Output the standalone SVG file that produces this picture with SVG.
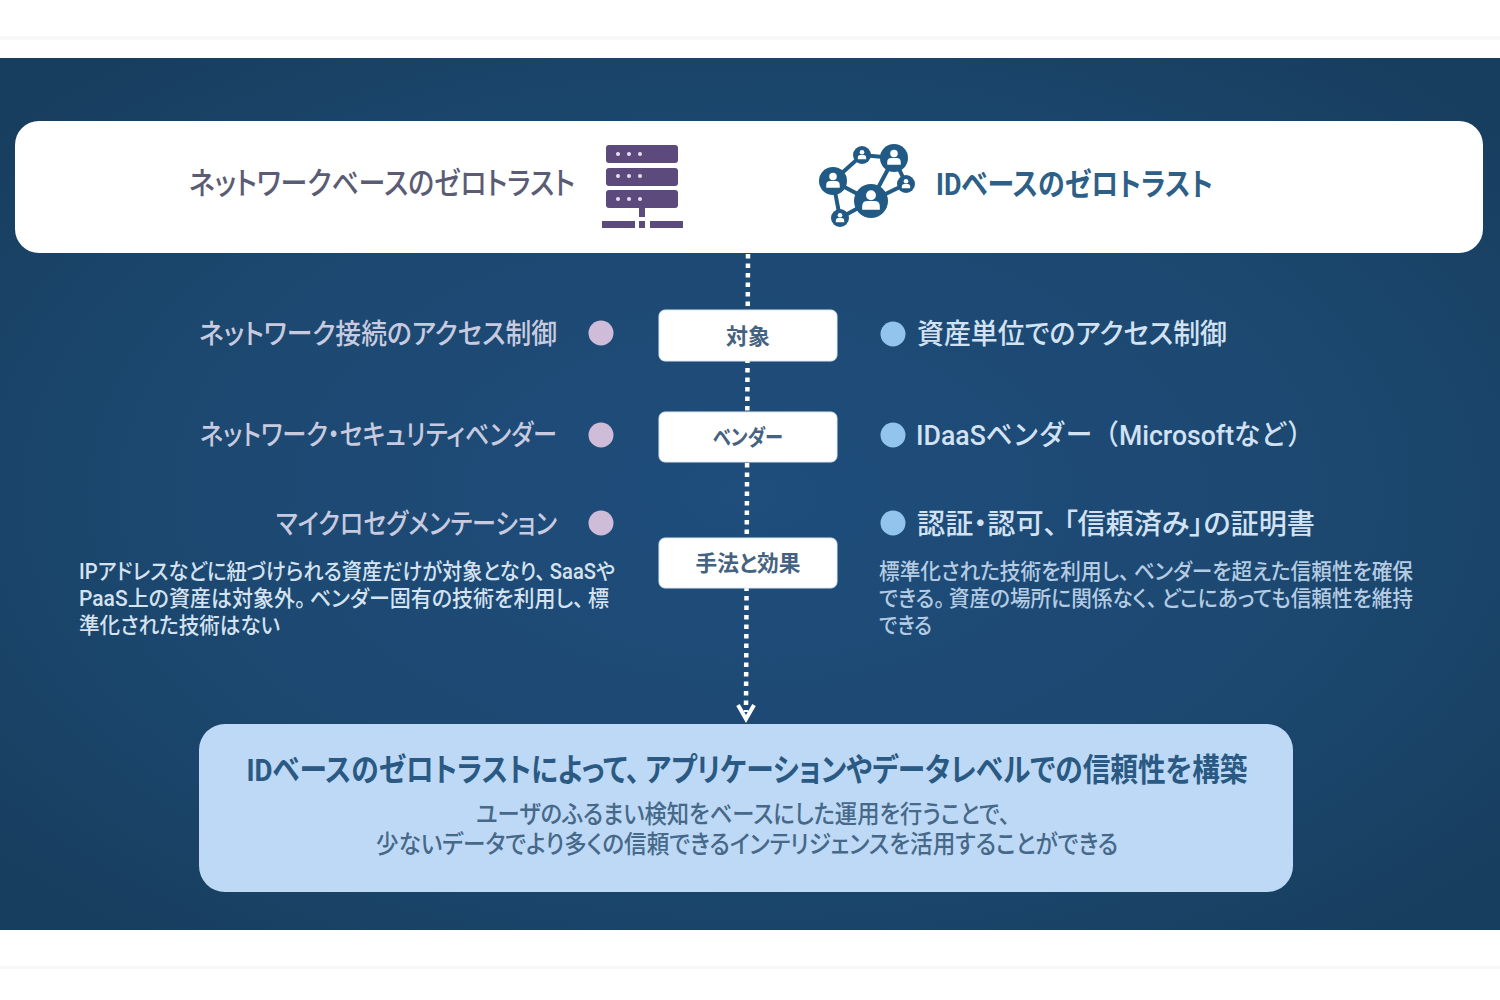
<svg xmlns="http://www.w3.org/2000/svg" width="1500" height="1000" viewBox="0 0 1500 1000">
<defs>
<radialGradient id="bg" cx="50%" cy="50%" r="65%"><stop offset="0" stop-color="#1f4d7c"/><stop offset="0.6" stop-color="#1c4870"/><stop offset="1" stop-color="#173e5f"/></radialGradient>
<g id="person"><circle cx="0" cy="-3.4" r="2.9"/><path d="M-5.2 5.2 v-2 q0 -3.2 3.2 -3.2 h4 q3.2 0 3.2 3.2 v2 z"/></g>
</defs>
<style>
text{font-family:Roboto,"Noto Sans CJK JP",sans-serif;font-feature-settings:"palt";font-weight:500}
.np{font-feature-settings:normal}
.h{font-size:31px;fill:#5a5c74}.hb{font-size:31px;fill:#2e5f86;font-weight:700}
.lp{font-size:28px;fill:#c8cadf;text-anchor:end}.lb{font-size:28px;fill:#d2e2f3}
.tag{font-size:22px;fill:#456280;text-anchor:middle;font-weight:700}
.s{font-size:22px;fill:#d5e2f0}
.s2{font-size:22px;fill:#b4cbe2}
.t1{font-size:32px;fill:#2a5a83;text-anchor:middle;font-weight:700}.t2{font-size:25px;fill:#466889;text-anchor:middle}
.tagbox{fill:#fff;stroke:#dce8f4;stroke-width:1}
.dp{fill:#cfbcd9}.db{fill:#93c4ee}
.srv{fill:#5d4a7d}.srvd{fill:#eadff0}.net{fill:#215a85}.netl{stroke:#215a85;stroke-width:4;fill:none}.pw{fill:#fff}
</style>
<rect width="1500" height="1000" fill="#fff"/>
<rect y="36" width="1500" height="4" fill="#f8f8f8"/>
<rect y="966" width="1500" height="3" fill="#f8f8f8"/>
<rect y="58" width="1500" height="872" fill="url(#bg)"/>
<g id="connectors"><path d="M748 254 L746 712" fill="none" stroke="#fff" stroke-width="4.5" stroke-dasharray="4.5 5"/><path d="M738 705 L746 719 L754 705" fill="none" stroke="#fff" stroke-width="4"/></g>
<g id="header"><rect x="15" y="121" width="1468" height="132" rx="24" fill="#fff"/>
<text class="h" x="189" y="194" textLength="386" lengthAdjust="spacingAndGlyphs">ネットワークベースのゼロトラスト</text>
<text class="hb" x="936" y="195" textLength="277" lengthAdjust="spacingAndGlyphs">IDベースのゼロトラスト</text></g>
<g id="icon-server">
<rect class="srv" x="606" y="145" width="72" height="18" rx="3"/><rect class="srv" x="606" y="168" width="72" height="18" rx="3"/><rect class="srv" x="606" y="190" width="72" height="18" rx="3"/>
<g class="srvd"><circle cx="618" cy="154" r="2"/><circle cx="629" cy="154" r="2"/><circle cx="640" cy="154" r="2"/><circle cx="618" cy="176" r="2"/><circle cx="629" cy="176" r="2"/><circle cx="640" cy="176" r="2"/><circle cx="618" cy="199" r="2"/><circle cx="629" cy="199" r="2"/><circle cx="640" cy="199" r="2"/></g>
<rect class="srv" x="639" y="208" width="6" height="9"/><rect class="srv" x="602" y="221" width="33" height="7"/><rect class="srv" x="639" y="221" width="6" height="7"/><rect class="srv" x="650" y="221" width="33" height="7"/>
</g>
<g id="icon-network">
<path class="netl" d="M833 181 L862 155 L894 158 L871 201 L833 181 M833 181 L840 218 L871 201 M894 158 L906 184 L871 201"/>
<circle class="net" cx="833" cy="181" r="14"/><circle class="net" cx="862" cy="155" r="9"/><circle class="net" cx="894" cy="158" r="14"/><circle class="net" cx="906" cy="184" r="9"/><circle class="net" cx="871" cy="201" r="17"/><circle class="net" cx="840" cy="218" r="9"/>
<use href="#person" class="pw" transform="translate(833 181) scale(1.3)"/><use href="#person" class="pw" transform="translate(862 155) scale(.8)"/><use href="#person" class="pw" transform="translate(894 158) scale(1.3)"/><use href="#person" class="pw" transform="translate(906 184) scale(.8)"/><use href="#person" class="pw" transform="translate(871 201) scale(1.7)"/><use href="#person" class="pw" transform="translate(840 218) scale(.8)"/>
</g>
<g id="tag-target"><rect class="tagbox" x="659" y="310" width="178" height="51" rx="6"/><text class="tag" x="748" y="344" textLength="44" lengthAdjust="spacingAndGlyphs">対象</text></g>
<g id="tag-vendor"><rect class="tagbox" x="659" y="412" width="178" height="50" rx="6"/><text class="tag" x="748" y="445" textLength="70" lengthAdjust="spacingAndGlyphs">ベンダー</text></g>
<g id="tag-method"><rect class="tagbox" x="659" y="538" width="178" height="50" rx="6"/><text class="tag" x="748" y="571" textLength="105" lengthAdjust="spacingAndGlyphs">手法と効果</text></g>
<g id="left-1"><text class="lp" x="557" y="344" textLength="358" lengthAdjust="spacingAndGlyphs">ネットワーク接続のアクセス制御</text><circle class="dp" cx="601" cy="333" r="12.5"/></g>
<g id="left-2"><text class="lp" x="557" y="445" textLength="357" lengthAdjust="spacingAndGlyphs">ネットワーク・セキュリティベンダー</text><circle class="dp" cx="601" cy="435" r="12.5"/></g>
<g id="left-3"><text class="lp" x="557" y="534" textLength="281" lengthAdjust="spacingAndGlyphs">マイクロセグメンテーション</text><circle class="dp" cx="601" cy="523" r="12.5"/>
<text class="s" x="79" y="579" textLength="536" lengthAdjust="spacingAndGlyphs">IPアドレスなどに紐づけられる資産だけが対象となり、&#8201;SaaSや</text>
<text class="s" x="79" y="606" textLength="530" lengthAdjust="spacingAndGlyphs">PaaS上の資産は対象外。&#8201;ベンダー固有の技術を利用し、&#8201;標</text>
<text class="s" x="79" y="633" textLength="201" lengthAdjust="spacingAndGlyphs">準化された技術はない</text></g>
<g id="right-1"><circle class="db" cx="893" cy="334" r="12.5"/><text class="lb" x="917" y="344" textLength="310" lengthAdjust="spacingAndGlyphs">資産単位でのアクセス制御</text></g>
<g id="right-2"><circle class="db" cx="893" cy="435" r="12.5"/><text class="lb np" x="916" y="445" textLength="398" lengthAdjust="spacingAndGlyphs">IDaaSベンダー（Microsoftなど）</text></g>
<g id="right-3"><circle class="db" cx="893" cy="523" r="12.5"/><text class="lb" x="917" y="534" textLength="398" lengthAdjust="spacingAndGlyphs">認証・認可、&#8201;「信頼済み」の証明書</text>
<text class="s2" x="879" y="579" textLength="534" lengthAdjust="spacingAndGlyphs">標準化された技術を利用し、&#8201;ベンダーを超えた信頼性を確保</text>
<text class="s2" x="879" y="606" textLength="534" lengthAdjust="spacingAndGlyphs">できる。&#8201;資産の場所に関係なく、&#8201;どこにあっても信頼性を維持</text>
<text class="s2" x="879" y="633" textLength="53" lengthAdjust="spacingAndGlyphs">できる</text></g>
<g id="conclusion"><rect x="199" y="724" width="1094" height="168" rx="26" fill="#bed9f5"/>
<text class="t1" x="747" y="781" textLength="1001" lengthAdjust="spacingAndGlyphs">IDベースのゼロトラストによって、&#8201;アプリケーションやデータレベルでの信頼性を構築</text>
<text class="t2" x="743" y="823" textLength="534" lengthAdjust="spacingAndGlyphs">ユーザのふるまい検知をベースにした運用を行うことで、</text>
<text class="t2" x="747" y="853" textLength="742" lengthAdjust="spacingAndGlyphs">少ないデータでより多くの信頼できるインテリジェンスを活用することができる</text></g>
</svg>
